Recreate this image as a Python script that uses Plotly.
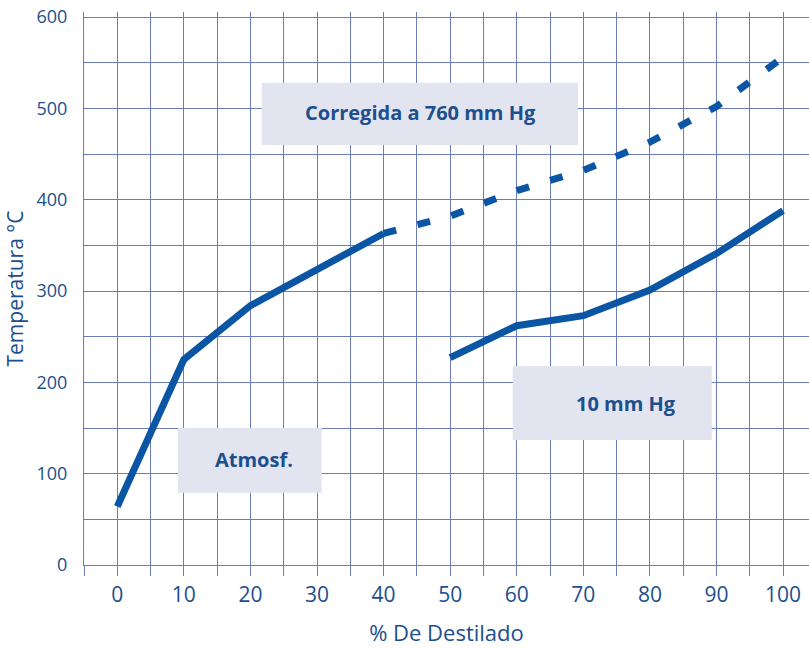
import plotly.graph_objects as go

# Data
atm_x = [0, 10, 20, 30, 40]
atm_y = [64, 225, 284, 323, 363]

corr_x = [40, 50, 60, 70, 80, 90, 100]
corr_y = [363, 382, 410, 432, 463, 502, 556]

hg10_x = [50, 60, 70, 80, 90, 100]
hg10_y = [227, 262, 273, 301, 341, 388]

x_tickvals = [0, 10, 20, 30, 40, 50, 60, 70, 80, 90, 100]
x_ticktext = ["0", "10", "20", "30", "40", "50", "60", "70", "80", "90", "100"]
y_tickvals = [0, 100, 200, 300, 400, 500, 600]
y_ticktext = ["0", "100", "200", "300", "400", "500", "600"]

labels = ["Corregida a 760 mm Hg", "Atmosf.", "10 mm Hg"]

LINE = "#0b56a4"
TEXT = "#1c4f8e"
GRID = "#6b7cbc"
BOX = "#e2e4f0"
FONT = "Open Sans"

fig = go.Figure()
fig.add_trace(go.Scatter(x=atm_x, y=atm_y, mode="lines",
                         line=dict(color=LINE, width=7), showlegend=False))
fig.add_trace(go.Scatter(x=corr_x, y=corr_y, mode="lines",
                         line=dict(color=LINE, width=7, dash="13px,22px"), showlegend=False))
fig.add_trace(go.Scatter(x=hg10_x, y=hg10_y, mode="lines",
                         line=dict(color=LINE, width=7), showlegend=False))

boxes = [
    (21.7, 69.2, 460, 528, 45.5, 495),
    (9.1, 30.7, 79, 150, 20.5, 115),
    (59.4, 89.3, 137, 218, 76.4, 177),
]
for (x0, x1, y0, y1, tx, ty), lab in zip(boxes, labels):
    fig.add_shape(type="rect", x0=x0, x1=x1, y0=y0, y1=y1,
                  fillcolor=BOX, line=dict(width=0), layer="above")
    fig.add_annotation(x=tx, y=ty, text="<b>" + lab + "</b>", showarrow=False,
                       font=dict(family=FONT, size=20, color=TEXT))

fig.update_layout(
    width=809, height=648,
    margin=dict(l=84, r=0, t=12, b=83),
    paper_bgcolor="white", plot_bgcolor="white",
    font=dict(family=FONT, color=TEXT, size=18),
    xaxis=dict(
        range=[-5, 103.9], tickvals=x_tickvals, ticktext=x_ticktext,
        showgrid=True, gridcolor=GRID, gridwidth=1,
        ticks="", ticklabelstandoff=11,
        showline=True, linecolor=GRID, linewidth=1,
        zeroline=False, automargin=False,
        minor=dict(dtick=5, tick0=0, showgrid=True, gridcolor=GRID, gridwidth=1,
                   ticks="outside", ticklen=10, tickcolor=GRID, tickwidth=1),
        title=dict(text="% De Destilado", font=dict(size=22, color=TEXT), standoff=18),
        tickfont=dict(size=21, color=TEXT),
    ),
    yaxis=dict(
        range=[0, 605.5], tickvals=y_tickvals, ticktext=y_ticktext,
        showgrid=True, gridcolor=GRID, gridwidth=1,
        ticks="", ticklabelstandoff=12,
        showline=True, linecolor=GRID, linewidth=1,
        zeroline=False, automargin=False,
        minor=dict(dtick=50, tick0=0, showgrid=True, gridcolor=GRID, gridwidth=1),
        title=dict(text="Temperatura °C", font=dict(size=21, color=TEXT), standoff=7),
        tickfont=dict(size=18, color=TEXT),
    ),
)

fig.write_html(
    "out.html",
    config={"displayModeBar": False},
    post_script="document.body.style.margin='0';document.body.style.overflow='hidden';",
)
